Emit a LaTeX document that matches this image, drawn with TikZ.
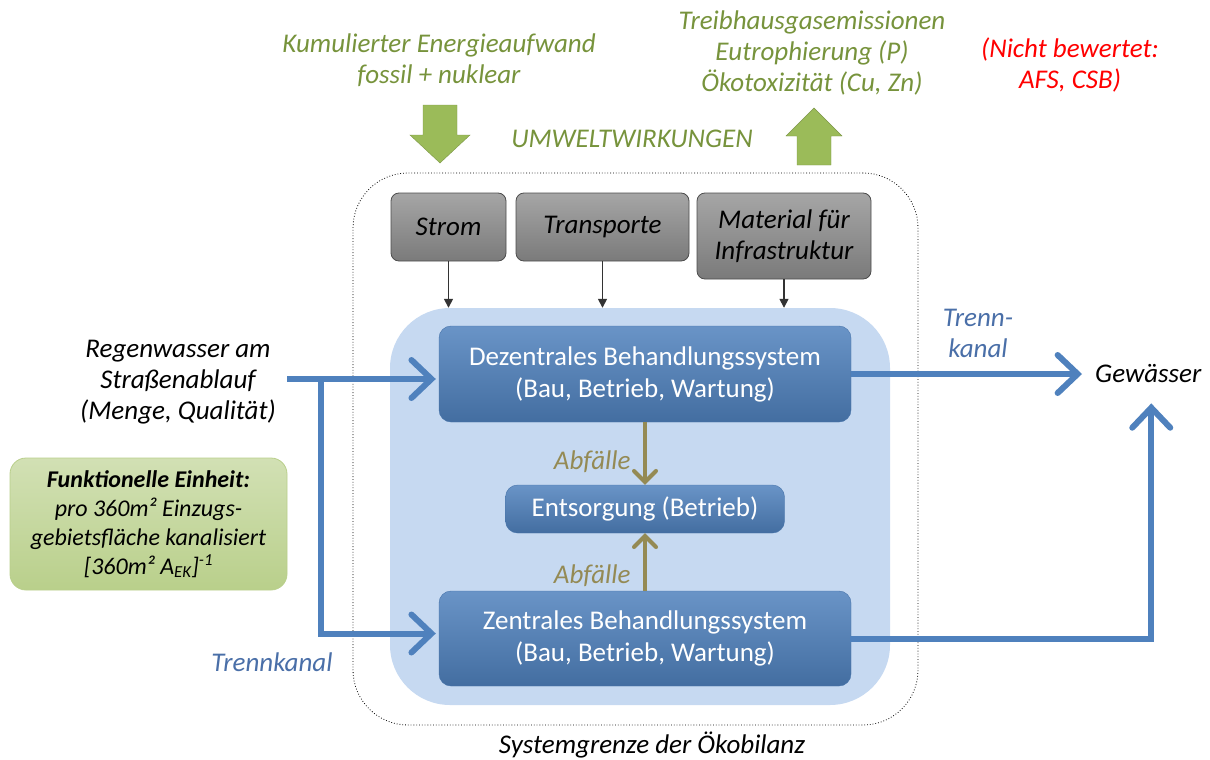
\documentclass[tikz,border=0pt]{standalone}
\usepackage{fontspec}
\setmainfont{Carlito}
\usepackage{xcolor}
\usetikzlibrary{positioning}
\usetikzlibrary{arrows.meta,calc}
\definecolor{blau}{HTML}{4F81BD}
\definecolor{blauhell}{HTML}{C6D9F1}
\definecolor{blautext}{HTML}{4A6FA8}
\definecolor{gruen}{HTML}{9BBB59}
\definecolor{gruentext}{HTML}{77933C}
\definecolor{oliv}{HTML}{948A54}

\begin{document}
\begin{tikzpicture}[
x=1pt, y=-1pt,
every node/.style = {font=\fontsize{27}{31}\selectfont, align=center},
grenze/.style = {draw=black, dotted, thick, rounded corners=55pt},
hintergrund/.style = {fill=blauhell, rounded corners=60pt},
grau/.style = {
  draw=black!70, thick,
  top color=black!35, bottom color=black!52,
  rounded corners=8pt,
  font=\fontsize{27}{31}\selectfont\itshape},
system/.style = {
  draw=blau!90!black, 
  top color=blau!85!white, bottom color=blau!85!black,
  rounded corners=12pt, text=white,
  font=\fontsize{27}{32}\selectfont},
einheit/.style = {
  draw=gruen!70, thick,
  top color=gruen!45, bottom color=gruen!70,
  rounded corners=16pt,
  font=\fontsize{24}{29}\selectfont},
txt/.style = {font=\fontsize{27}{31}\selectfont\itshape},
gtxt/.style = {txt, text=gruentext},
line/.style = {draw=black!80, line width=1.5pt, -{Triangle[length=9pt,width=9pt]}},
fluss/.style = {draw=blau, line width=6pt,
  -{Straight Barb[length=20pt,width=38pt,line cap=round]}},
abfall/.style = {draw=oliv, line width=4pt,
  -{Straight Barb[length=11pt,width=22pt,line cap=round]}},
]
\useasboundingbox (0,0) rectangle (1210,760);

\node[grenze, minimum width=565pt, minimum height=552pt] (sys) at (635.5,449) {};
\node[hintergrund, minimum width=500pt, minimum height=397pt] (bg) at (640,506.5) {};

\node[grau, minimum width=115pt, minimum height=68pt] (strom) at (448.5,227) {Strom};
\node[grau, minimum width=173pt, minimum height=68pt] (trans) at (602.5,227) {Transporte};
\node[grau, minimum width=174pt, minimum height=86pt] (mat) at (784,236) {Material für\\Infrastruktur};

\node[system, minimum width=412pt, minimum height=96pt] (dez) at (645,374)
  {Dezentrales Behandlungssystem\\(Bau, Betrieb, Wartung)};
\node[system, minimum width=279pt, minimum height=48pt] (ents) at (645,509) {Entsorgung (Betrieb)};
\node[system, minimum width=412pt, minimum height=95pt] (zent) at (645,638.5)
  {Zentrales Behandlungssystem\\(Bau, Betrieb, Wartung)};

\node[txt] (regen) at (178,382) {Regenwasser am\\Straßenablauf\\(Menge, Qualität)};
\node[txt, anchor=west, inner sep=0pt] (gew) at (1095,374) {Gewässer};

\node[einheit, minimum width=277pt, minimum height=132pt] (fe) at (148.5,524)
  {\textbf{\textit{Funktionelle Einheit:}}\\
   \textit{pro 360m² Einzugs-}\\
   \textit{gebietsfläche kanalisiert}\\
   \textit{[360m² A\textsubscript{EK}]\textsuperscript{-1}}};

\node[gtxt] (kea) at (439,60) {Kumulierter Energieaufwand\\fossil + nuklear};
\node[gtxt] (thg) at (812,53) {Treibhausgasemissionen\\Eutrophierung (P)\\Ökotoxizität (Cu, Zn)};
\node[gtxt] (uw) at (632,139) {UMWELTWIRKUNGEN};
\node[txt, text=red] (nb) at (1070,65) {(Nicht bewertet:\\AFS, CSB)};
\node[txt] (sg) at (652,745) {Systemgrenze der Ökobilanz};

\node[txt, text=blautext] (tk1) at (978,333) {Trenn-\\kanal};
\node[txt, text=blautext] (tk2) at (272,662) {Trennkanal};
\node[txt, text=oliv, anchor=east] (ab1) at (634,462) {Abfälle};
\node[txt, text=oliv, anchor=east] (ab2) at (634,576) {Abfälle};

\fill[gruen, draw=gruen!80!black] (423,105) -- (457,105) -- (457,135) -- (470,135)
  -- (440,163) -- (410,135) -- (423,135) -- cycle;
\fill[gruen, draw=gruen!80!black] (797,165) -- (831,165) -- (831,136) -- (842,136)
  -- (814,108) -- (786,136) -- (797,136) -- cycle;

\coordinate (ein) at (287,379);
\coordinate (abzw) at (321,379);

\begin{scope}[every path/.style=line]
\path (strom) -- (strom |- bg.north);
\path (trans) -- (trans |- bg.north);
\path (mat) -- (mat |- bg.north);
\end{scope}

\begin{scope}[every path/.style=fluss]
\path (ein) -- ([xshift=-3pt]ein -| dez.west);
\path (abzw) |- ([xshift=-3pt,yshift=5pt]zent.west);
\path (dez.east) -- ([xshift=-13pt]gew.west);
\path ([xshift=-1pt]zent.east) -| ([xshift=3pt,yshift=-20pt]gew.south);
\end{scope}

\begin{scope}[every path/.style=abfall]
\path (dez.south) -- (ents.north);
\path (zent.north) -- (ents.south);
\end{scope}

\end{tikzpicture}
\end{document}
